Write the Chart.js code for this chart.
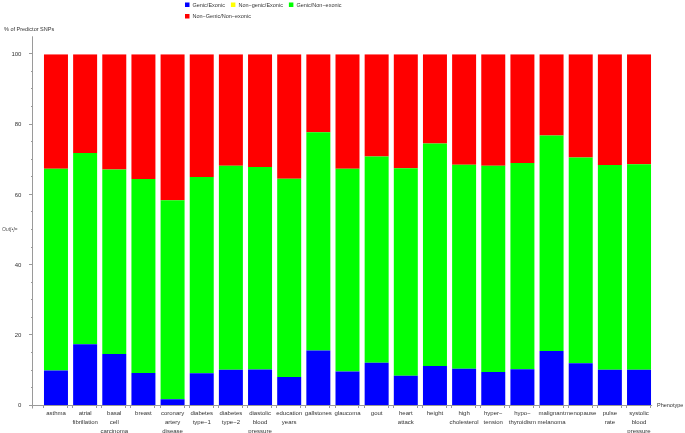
<!DOCTYPE html>
<html>
<head>
<meta charset="utf-8">
<script src="https://cdn.jsdelivr.net/npm/chart.js@4.4.1/dist/chart.umd.min.js"></script>
<style>
  html, body { margin: 0; padding: 0; background: #fff; }
  #wrap { position: relative; width: 685px; height: 433px; }
</style>
</head>
<body>
<div id="wrap"><canvas id="chart" width="685" height="433"></canvas></div>
<script>
// Data
const CATEGORIES = [
    ['asthma'], ['atrial', 'fibrillation'], ['basal', 'cell', 'carcinoma'], ['breast'],
    ['coronary', 'artery', 'disease'], ['diabetes', 'type\u22121'], ['diabetes', 'type\u22122'],
    ['diastolic', 'blood', 'pressure'], ['education', 'years'], ['gallstones'], ['glaucoma'],
    ['gout'], ['heart', 'attack'], ['height'], ['high', 'cholesterol'], ['hyper\u2212', 'tension'],
    ['hypo\u2212', 'thyroidism'], ['malignant', 'melanoma'], ['menopause'], ['pulse', 'rate'],
    ['systolic', 'blood', 'pressure']
];
const SERIES_LABELS = ['Genic/Exonic', 'Non\u2212genic/Exonic', 'Genic/Non\u2212exonic', 'Non\u2212Genic/Non\u2212exonic'];
const GENIC_EXONIC = [10.0, 17.5, 14.7, 9.3, 1.8, 9.2, 10.2, 10.3, 8.2, 15.7, 9.7, 12.2, 8.5, 11.3, 10.5, 9.6, 10.4, 15.6, 12.1, 10.2, 10.2];
const NONGENIC_EXONIC = [0, 0, 0, 0, 0, 0, 0, 0, 0, 0, 0, 0, 0, 0, 0, 0, 0, 0, 0, 0, 0];
const GENIC_NONEXONIC = [57.4, 54.4, 52.5, 55.2, 56.7, 55.9, 58.1, 57.6, 56.4, 62.1, 57.7, 58.7, 59.1, 63.3, 58.1, 58.7, 58.7, 61.3, 58.5, 58.3, 58.5];
const NONGENIC_NONEXONIC = [32.6, 28.1, 32.8, 35.5, 41.5, 34.9, 31.7, 32.1, 35.4, 22.2, 32.6, 29.1, 32.4, 25.4, 31.4, 31.7, 30.9, 23.1, 29.4, 31.5, 31.3];
const Y_TICKS = [0, 20, 40, 60, 80, 100];

// Colors
const SERIES_COLORS = ['#0000ff', '#ffff00', '#00ff00', '#ff0000'];
const AXIS_COLOR = '#9a9a9a';
const TEXT_COLOR = '#333333';

// Fonts
const FONT_FAMILY = '"Liberation Sans", Arial, sans-serif';

// Draws the Mathematica style axes, ticks at bar edges, legend and extra labels
const mmaDecor = {
    id: 'mmaDecor',
    afterDraw(chart) {
        const { ctx, chartArea: area, scales: { y } } = chart;
        const axisX = Math.round(area.left - 8.4) - 0.5;
        const y0 = Math.round(y.getPixelForValue(0)) - 0.5;

        ctx.save();
        ctx.strokeStyle = AXIS_COLOR;
        ctx.lineWidth = 1;

        const line = (x1, y1, x2, y2) => {
            ctx.beginPath();
            ctx.moveTo(x1, y1);
            ctx.lineTo(x2, y2);
            ctx.stroke();
        };

        // axes
        line(axisX, y.getPixelForValue(100) - 18, axisX, y0 + 3);
        line(axisX, y0, area.right - 1.5, y0);

        // y ticks, major every 20, minor every 5
        for (let v = 0; v <= 100; v += 5) {
            const py = Math.round(y.getPixelForValue(v)) - 0.5;
            const len = Y_TICKS.includes(v) ? 3.5 : 1.5;
            line(axisX - len, py, axisX, py);
        }

        // x ticks at both edges of every bar
        chart.getDatasetMeta(0).data.forEach(bar => {
            const half = bar.width / 2;
            [bar.x - half, bar.x + half].forEach(px => {
                const rx = Math.round(px) - 0.5;
                line(rx, y0, rx, y0 + 2.5);
            });
        });

        // texts
        ctx.fillStyle = TEXT_COLOR;
        ctx.textBaseline = 'middle';
        ctx.textAlign = 'left';

        ctx.font = `5.5px ${FONT_FAMILY}`;
        ctx.fillText('% of Predictor SNPs', 4, 29.5);
        ctx.fillText('Phenotype', 657, 405.5);

        ctx.fillStyle = '#555555';
        ctx.font = `italic 5px ${FONT_FAMILY}`;
        ctx.fillText('Out[\u2022]=', 2, 230);

        // legend
        ctx.font = `5.5px ${FONT_FAMILY}`;
        let lx = 185;
        let ly = 5;
        SERIES_LABELS.forEach((label, i) => {
            if (i === 3) {
                lx = 185;
                ly = 16.5;
            }
            ctx.fillStyle = SERIES_COLORS[i];
            ctx.fillRect(lx, ly - 2.5, 4.5, 4.5);
            ctx.fillStyle = TEXT_COLOR;
            ctx.fillText(label, lx + 7.5, ly);
            lx += 7.5 + ctx.measureText(label).width + 6;
        });

        ctx.restore();
    }
};

const datasets = [GENIC_EXONIC, NONGENIC_EXONIC, GENIC_NONEXONIC, NONGENIC_NONEXONIC].map((values, i) => ({
    label: SERIES_LABELS[i],
    data: values,
    backgroundColor: SERIES_COLORS[i],
    borderWidth: 0,
    barPercentage: 0.823,
    categoryPercentage: 1.0
}));

Chart.defaults.font.family = FONT_FAMILY;
Chart.defaults.color = TEXT_COLOR;

new Chart(document.getElementById('chart'), {
    type: 'bar',
    data: { labels: CATEGORIES, datasets: datasets },
    options: {
        responsive: false,
        animation: false,
        events: [],
        layout: { padding: { top: 54.3, right: 31.4, bottom: 0, left: 0 } },
        plugins: {
            legend: { display: false },
            tooltip: { enabled: false }
        },
        scales: {
            x: {
                stacked: true,
                grid: { display: false },
                border: { display: false },
                ticks: {
                    autoSkip: false,
                    maxRotation: 0,
                    minRotation: 0,
                    padding: -5, // chart.js puts the first line lower than wanted
                    font: { size: 6, lineHeight: 1.5 }
                },
                afterFit(scale) { scale.height = 27.3; }
            },
            y: {
                stacked: true,
                min: 0,
                max: 100,
                grid: { display: false },
                border: { display: false },
                ticks: {
                    stepSize: 20,
                    padding: 12,
                    font: { size: 6 }
                },
                afterFit(scale) { scale.width = 41.4; }
            }
        }
    },
    plugins: [mmaDecor]
});
</script>
</body>
</html>
